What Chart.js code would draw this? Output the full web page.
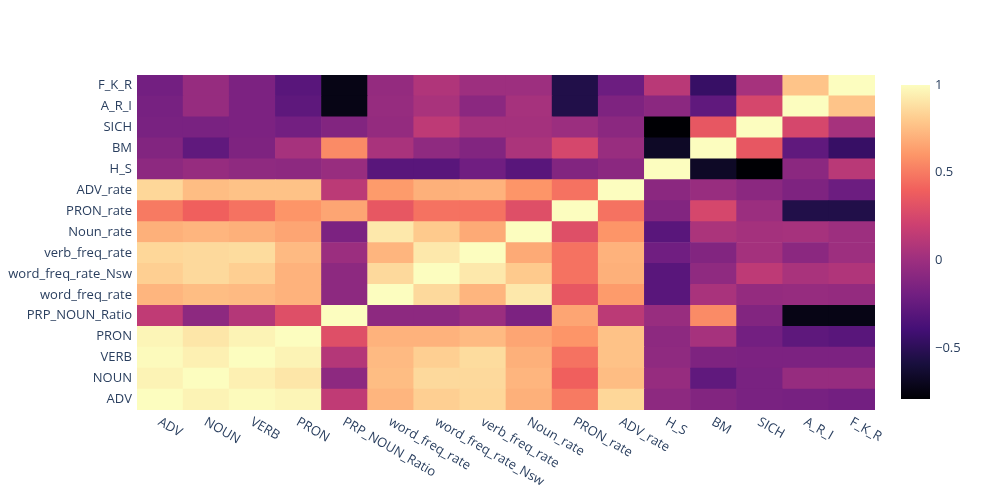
<!DOCTYPE html>
<html>
<head>
<meta charset="utf-8">
<script src="https://cdn.jsdelivr.net/npm/chart.js@4.4.1/dist/chart.umd.min.js"></script>
<style>
  body { margin: 0; background: #fff; }
  #lienzo { position: relative; width: 983px; height: 494px; }
  #lienzo canvas { position: absolute; top: 0; }
  #mapa { left: 0; }
  #barra { left: 895px; }
</style>
</head>
<body>
<div id="lienzo">
  <canvas id="mapa" width="983" height="494"></canvas>
  <canvas id="barra" width="88" height="494"></canvas>
</div>
<script>
// ================= DATOS =================
const categorias = ["ADV", "NOUN", "VERB", "PRON", "PRP_NOUN_Ratio", "word_freq_rate",
  "word_freq_rate_Nsw", "verb_freq_rate", "Noun_rate", "PRON_rate", "ADV_rate",
  "H_S", "BM", "SICH", "A_R_I", "F_K_R"];

// una fila por variable (mismo orden que categorias)
const filaADV      = [1, 0.96, 0.99, 0.97, 0.15, 0.72, 0.82, 0.85, 0.70, 0.50, 0.85, -0.07, -0.12, -0.16, -0.17, -0.19];
const filaNOUN     = [0.96, 1, 0.95, 0.91, -0.07, 0.75, 0.86, 0.86, 0.72, 0.40, 0.75, -0.03, -0.27, -0.16, -0.03, -0.03];
const filaVERB     = [0.99, 0.95, 1, 0.96, 0.10, 0.74, 0.82, 0.87, 0.70, 0.47, 0.77, -0.06, -0.14, -0.15, -0.15, -0.15];
const filaPRON     = [0.97, 0.91, 0.96, 1, 0.30, 0.71, 0.71, 0.74, 0.66, 0.60, 0.77, -0.07, 0.04, -0.19, -0.28, -0.30];
const filaPRP      = [0.15, -0.07, 0.10, 0.30, 1, -0.07, -0.07, -0.01, -0.15, 0.66, 0.13, -0.02, 0.56, -0.12, -0.73, -0.73];
const filaWordFreq = [0.72, 0.75, 0.74, 0.71, -0.07, 1, 0.86, 0.72, 0.92, 0.35, 0.62, -0.30, 0.05, -0.04, -0.03, -0.04];
const filaNsw      = [0.82, 0.86, 0.82, 0.71, -0.07, 0.86, 1, 0.92, 0.80, 0.47, 0.70, -0.30, -0.06, 0.14, 0.05, 0.08];
const filaVerbFreq = [0.85, 0.86, 0.87, 0.74, -0.01, 0.72, 0.92, 1, 0.68, 0.47, 0.71, -0.20, -0.12, 0.03, -0.08, 0.00];
const filaNounRate = [0.70, 0.72, 0.70, 0.66, -0.15, 0.92, 0.80, 0.68, 1, 0.30, 0.60, -0.30, 0.06, 0.03, 0.04, 0.00];
const filaPronRate = [0.50, 0.40, 0.47, 0.60, 0.66, 0.35, 0.47, 0.47, 0.30, 1, 0.47, -0.12, 0.25, -0.01, -0.55, -0.55];
const filaAdvRate  = [0.85, 0.75, 0.77, 0.77, 0.13, 0.62, 0.70, 0.71, 0.60, 0.47, 1, -0.08, -0.02, -0.08, -0.14, -0.22];
const filaHS       = [-0.07, -0.03, -0.06, -0.07, -0.02, -0.30, -0.30, -0.20, -0.30, -0.12, -0.08, 1, -0.67, -0.79, -0.08, 0.12];
const filaBM       = [-0.12, -0.27, -0.14, 0.04, 0.56, 0.05, -0.06, -0.12, 0.06, 0.25, -0.02, -0.67, 1, 0.35, -0.27, -0.45];
const filaSICH     = [-0.16, -0.16, -0.15, -0.19, -0.12, -0.04, 0.14, 0.03, 0.03, -0.01, -0.08, -0.79, 0.35, 1, 0.25, 0.04];
const filaARI      = [-0.17, -0.03, -0.15, -0.28, -0.73, -0.03, 0.05, -0.08, 0.04, -0.55, -0.14, -0.08, -0.27, 0.25, 1, 0.78];
const filaFKR      = [-0.19, -0.03, -0.15, -0.30, -0.73, -0.04, 0.08, 0.00, 0.00, -0.55, -0.22, 0.12, -0.45, 0.04, 0.78, 1];

const matriz = [filaADV, filaNOUN, filaVERB, filaPRON, filaPRP, filaWordFreq, filaNsw,
  filaVerbFreq, filaNounRate, filaPronRate, filaAdvRate, filaHS, filaBM, filaSICH, filaARI, filaFKR];

const ticksBarra = [1, 0.5, 0, -0.5];

// escala magma (plotly)
const magma = ["#000004", "#180f3d", "#440f76", "#721f81", "#9e2f7f",
  "#cd4071", "#f1605d", "#fd9668", "#feca8d", "#fcfdbf"];

const zMin = Math.min(...matriz.flat());
const zMax = Math.max(...matriz.flat());

const fuente = '"Open Sans", verdana, arial, sans-serif';
const tamFuente = 13;
const colorTexto = "#2a3f5f";

// ================= COLOR =================
function hexRgb(h) {
    return [1, 3, 5].map(i => parseInt(h.substr(i, 2), 16));
}

function colorDe(v) {
    let f = (v - zMin) / (zMax - zMin);
    f = Math.max(0, Math.min(1, f));
    const pos = f * (magma.length - 1);
    const i = Math.min(Math.floor(pos), magma.length - 2);
    const t = pos - i;
    const a = hexRgb(magma[i]), b = hexRgb(magma[i + 1]);
    const c = a.map((x, k) => Math.round(x + (b[k] - x) * t));
    return `rgb(${c[0]},${c[1]},${c[2]})`;
}

// ================= MAPA DE CALOR =================
const etiquetasX = {
    id: "etiquetasX",
    afterDraw(chart) {
        const { ctx, chartArea, scales: { x } } = chart;
        ctx.save();
        ctx.font = `${tamFuente}px ${fuente}`;
        ctx.fillStyle = colorTexto;
        ctx.textAlign = "left";
        ctx.textBaseline = "middle";
        categorias.forEach((c, i) => {
            ctx.save();
            ctx.translate(x.getPixelForTick(i) - 1, chartArea.bottom + 11);
            ctx.rotate(Math.PI / 6);
            ctx.fillText(c, 0, 0);
            ctx.restore();
        });
        ctx.restore();
    }
};

new Chart(document.getElementById("mapa"), {
    type: "bar",
    data: {
        labels: categorias,
        datasets: matriz.map((fila, r) => ({
            label: categorias[r],
            data: fila.map(() => [r, r + 1]),
            backgroundColor: fila.map(colorDe),
            borderWidth: 0,
            barPercentage: 1,
            categoryPercentage: 1,
            grouped: false
        }))
    },
    options: {
        responsive: false,
        animation: false,
        events: [],
        layout: { padding: { left: 0, right: 108, top: 75, bottom: 84 } },
        plugins: { legend: { display: false }, tooltip: { enabled: false } },
        scales: {
            x: {
                grid: { display: false },
                border: { display: false },
                ticks: { display: false },
                afterFit: s => { s.height = 0; }
            },
            y: {
                min: 0,
                max: categorias.length,
                grid: { display: false, drawTicks: false },
                border: { display: false },
                afterBuildTicks: s => { s.ticks = categorias.map((_, i) => ({ value: i + 0.5 })); },
                afterFit: s => { s.width = 137; },
                ticks: {
                    autoSkip: false,
                    padding: 5,
                    color: colorTexto,
                    font: { family: fuente, size: tamFuente },
                    callback: v => categorias[Math.floor(v)]
                }
            }
        }
    },
    plugins: [etiquetasX]
});

// ================= BARRA DE COLOR =================
function degradado(context) {
    const chart = context.chart;
    const { ctx, chartArea, scales: { y } } = chart;
    if (!chartArea) return magma[5];
    const g = ctx.createLinearGradient(0, y.getPixelForValue(zMin), 0, y.getPixelForValue(zMax));
    magma.forEach((c, i) => g.addColorStop(i / (magma.length - 1), c));
    return g;
}

new Chart(document.getElementById("barra"), {
    type: "bar",
    data: {
        labels: [""],
        datasets: [{
            data: [[zMin, zMax]],
            backgroundColor: degradado,
            borderWidth: 0,
            barPercentage: 1,
            categoryPercentage: 1
        }]
    },
    options: {
        responsive: false,
        animation: false,
        events: [],
        layout: { padding: { left: 6, right: 13, top: 85, bottom: 95 } },
        plugins: { legend: { display: false }, tooltip: { enabled: false } },
        scales: {
            x: { display: false },
            y: {
                position: "right",
                min: zMin,
                max: zMax,
                grid: { display: false, drawTicks: false },
                border: { display: false },
                afterBuildTicks: s => { s.ticks = ticksBarra.map(v => ({ value: v })); },
                afterFit: s => { s.width = 40; },
                ticks: {
                    padding: 5,
                    color: colorTexto,
                    font: { family: fuente, size: tamFuente },
                    callback: v => String(v).replace("-", "\u2212")
                }
            }
        }
    }
});
</script>
</body>
</html>
